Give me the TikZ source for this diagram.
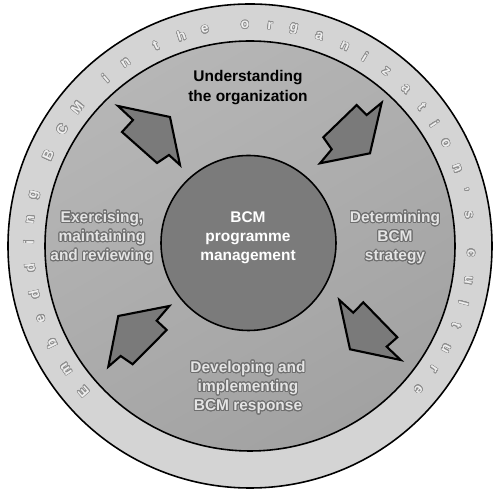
\documentclass[tikz,border=0pt]{standalone}
\usepackage{fontspec}
\setmainfont{Liberation Sans}
\usepackage{contour}
\contourlength{0.5pt}
\contournumber{24}
\definecolor{ringfill}{HTML}{D4D4D4}
\definecolor{midlight}{HTML}{B6B6B6}
\definecolor{middark}{HTML}{A2A2A2}
\definecolor{corefill}{HTML}{7B7B7B}
\definecolor{arrowfill}{HTML}{7A7A7A}
\definecolor{outtext}{HTML}{E4E4E4}
\definecolor{outlinec}{HTML}{6E6E6E}
\definecolor{ringtext}{HTML}{EEEEEE}
\definecolor{ringline}{HTML}{8E8E8E}
\newcommand{\ringglyph}[1]{\contourlength{0.3pt}\contour{ringline}{#1}}
\begin{document}
\begin{tikzpicture}[x=0.02cm,y=0.02cm,
  bigtext/.style={font=\fontsize{8.8}{10.9}\selectfont\bfseries, align=center, inner sep=0pt},
  darklabel/.style={bigtext, text=black},
  whitelabel/.style={bigtext, text=white},
  embossed/.style={bigtext, text=outtext},
  ringletter/.style={font=\fontsize{7.8}{9}\selectfont\bfseries, text=ringtext, inner sep=0pt},
  blockarrow/.style={fill=arrowfill, draw=black, line width=1.2pt, line join=miter},
  circline/.style={draw=black, line width=0.9pt}]
\useasboundingbox (-250,-246) rectangle (250,246);
\fill[white] (-250,-246) rectangle (250,246);
% rings
\filldraw[circline, fill=ringfill] (0,0) circle (242);
\shade[top color=midlight, bottom color=middark, shading angle=30] (0,0) circle (205);
\draw[circline] (0,0) circle (205);
\filldraw[circline, fill=corefill] (-1.5,3) circle (87.5);
% ring text
\foreach \a/\l [count=\i] in {221.2/E,213.8/m,206.2/b,199.2/e,192.7/d,185.7/d,179/i,173.2/n,166.7/g,
  155.8/B,148.2/C,141.3/M,130.8/i,124.2/n,115.2/t,108.1/h,101.8/e,
  91.3/o,84.8/r,78.6/g,71.7/a,64.6/n,58.7/i,52.0/z,45.2/a,39.0/t,33.5/i,27.7/o,20.5/n,14.6/',8.1/s,
  -1.8/c,-8.9/u,-15.0/l,-21.0/t,-27.6/u,-33.8/r,-40.4/e}
  \node[ringletter, rotate=\a-90] (r\i) at (\a:221) {\ringglyph{\l}};
% arrows
\filldraw[blockarrow] (-132,140) -- (-80,129) -- (-70,81) -- (-81,91) -- (-93,83) -- (-128,114) -- (-117,126) -- cycle;
\filldraw[blockarrow] (131.7,143.3) -- (120,92.7) -- (70,82.7) -- (81.7,96.7) -- (73.3,108.7) -- (106.7,141) -- (116.7,131) -- cycle;
\filldraw[blockarrow] (-131.7,-70) -- (-80.7,-60) -- (-93.3,-74.7) -- (-83.3,-84) -- (-117.3,-118.3) -- (-129.3,-110) -- (-141.7,-120.7) -- cycle;
\filldraw[blockarrow] (89.3,-54) -- (103.3,-66.7) -- (113.3,-56.3) -- (147.3,-91.3) -- (136.7,-100.7) -- (150.7,-114) -- (100,-103.3) -- cycle;
% labels
\node[darklabel] (understand) at (-2,158.5) {Understanding\\the organization};
\node[whitelabel] (core) at (-2,8) {BCM\\programme\\management};
\node[embossed] (exercise) at (-148,8) {\contour{outlinec}{Exercising,}\\\contour{outlinec}{maintaining}\\\contour{outlinec}{and reviewing}};
\node[embossed] (determine) at (145,8) {\contour{outlinec}{Determining}\\\contour{outlinec}{BCM}\\\contour{outlinec}{strategy}};
\node[embossed] (develop) at (-2,-142) {\contour{outlinec}{Developing and}\\\contour{outlinec}{implementing}\\\contour{outlinec}{BCM response}};
\end{tikzpicture}
\end{document}
